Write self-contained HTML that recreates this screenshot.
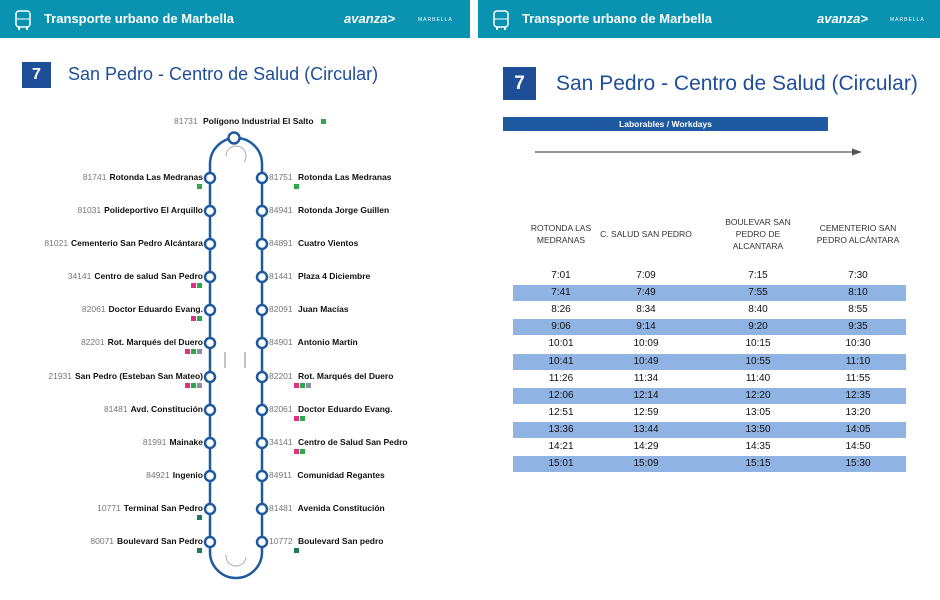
<!DOCTYPE html>
<html><head><meta charset="utf-8"><style>
body{margin:0;width:940px;height:600px;background:#fff;position:relative;overflow:hidden;font-family:"Liberation Sans",sans-serif}
.hdr{position:absolute;top:0;height:38px;background:#0a93b0;color:#fff}
.hdr .t{position:absolute;left:44px;top:11px;font-size:13px;font-weight:bold}
.logo{position:absolute;top:11px;font-size:13px;font-weight:bold;font-style:italic}
.mar{position:absolute;top:17px;font-size:5px;letter-spacing:1px}
.num{position:absolute;background:#1f4e99;color:#fff;font-weight:bold;text-align:center}
.ttl{position:absolute;color:#1f4e99}
.s{position:absolute;font-size:8.5px;font-weight:bold;color:#111;white-space:nowrap;font-family:"Liberation Sans Narrow","Liberation Sans",sans-serif}
.s i{font-style:normal;color:#777;font-weight:normal;margin-right:3px}
.bd{position:absolute;white-space:nowrap;line-height:0}
.b{display:inline-block;width:5px;height:5px;margin-right:1px}
.cell{position:absolute;font-size:10px;color:#111;text-align:center;width:100px;margin-left:-50px}
.hd{position:absolute;font-size:8.5px;color:#333;text-align:center;width:100px;margin-left:-50px;line-height:12px}
</style></head><body>
<div class="hdr" style="left:0;width:470px">
<svg style="position:absolute;left:14px;top:9px" width="18" height="22"><rect x="2" y="2" width="14" height="16" rx="3" fill="none" stroke="#fff" stroke-width="1.5"/><line x1="2" y1="10" x2="16" y2="10" stroke="#fff"/><line x1="5" y1="18" x2="5" y2="21" stroke="#fff" stroke-width="2"/><line x1="13" y1="18" x2="13" y2="21" stroke="#fff" stroke-width="2"/></svg>
<div class="t">Transporte urbano de Marbella</div>
<div class="logo" style="left:344px">avanza&gt;</div>
<div class="mar" style="left:418px">MARBELLA</div>
</div>
<div class="hdr" style="left:478px;width:462px">
<svg style="position:absolute;left:14px;top:9px" width="18" height="22"><rect x="2" y="2" width="14" height="16" rx="3" fill="none" stroke="#fff" stroke-width="1.5"/><line x1="2" y1="10" x2="16" y2="10" stroke="#fff"/><line x1="5" y1="18" x2="5" y2="21" stroke="#fff" stroke-width="2"/><line x1="13" y1="18" x2="13" y2="21" stroke="#fff" stroke-width="2"/></svg>
<div class="t">Transporte urbano de Marbella</div>
<div class="logo" style="left:339px">avanza&gt;</div>
<div class="mar" style="left:412px">MARBELLA</div>
</div>
<div class="num" style="left:22px;top:62px;width:29px;height:26px;line-height:26px;font-size:16px">7</div>
<div class="ttl" style="left:68px;top:64px;font-size:18px">San Pedro - Centro de Salud (Circular)</div>
<div class="num" style="left:503px;top:67px;width:33px;height:33px;line-height:33px;font-size:19px">7</div>
<div class="ttl" style="left:556px;top:72px;font-size:21px">San Pedro - Centro de Salud (Circular)</div>
<div style="position:absolute;left:503px;top:117px;width:325px;height:14px;background:#1f5aa0;color:#fff;font-size:8.5px;font-weight:bold;text-align:center;line-height:14px">Laborables / Workdays</div>
<svg style="position:absolute;left:0;top:0" width="940" height="600" id="svg">
<line x1="535" y1="152" x2="855" y2="152" stroke="#555" stroke-width="1.3"/>
<polygon points="862,152 852,148.5 852,155.5" fill="#555"/>
<rect x="210" y="138" width="52" height="440" rx="26" fill="none" stroke="#1f5aa0" stroke-width="2.5"/>
<circle cx="234" cy="138" r="5.5" fill="#fff" stroke="#1f5aa0" stroke-width="2.5"/>
<path d="M226,156 A10,10 0 1 1 244,162" fill="none" stroke="#aaa" stroke-width="1"/>
<path d="M226,555 A10,10 0 1 0 246,557" fill="none" stroke="#aaa" stroke-width="1"/>
<line x1="225" y1="352" x2="225" y2="368" stroke="#888"/><line x1="245" y1="352" x2="245" y2="368" stroke="#888"/>
</svg>
<div class="s" style="left:174px;top:116px"><i>81731</i> Polígono Industrial El Salto <span class="b" style="background:#2da84a;margin-left:5px"></span></div>
<div id="stops"></div>
<div id="tbl"></div>
<script>
const stopYs=[178,211,244,277,310,343,377,410,443,476,509,542];
const leftCodes=["81741","81031","81021","34141","82061","82201","21931","81481","81991","84921","10771","80071"];
const leftNames=["Rotonda Las Medranas","Polideportivo El Arquillo","Cementerio San Pedro Alcántara","Centro de salud San Pedro","Doctor Eduardo Evang.","Rot. Marqués del Duero","San Pedro (Esteban San Mateo)","Avd. Constitución","Mainake","Ingenio","Terminal San Pedro","Boulevard San Pedro"];
const leftBadges=["g","","","pg","pg","pgs","pgs","","","","d","d"];
const rightCodes=["81751","84941","84891","81441","82091","84901","82201","82061","34141","84911","81481","10772"];
const rightNames=["Rotonda Las Medranas","Rotonda Jorge Guillen","Cuatro Vientos","Plaza 4 Diciembre","Juan Macías","Antonio Martín","Rot. Marqués del Duero","Doctor Eduardo Evang.","Centro de Salud San Pedro","Comunidad Regantes","Avenida Constitución","Boulevard San pedro"];
const rightBadges=["g","","","","","","pgs","pg","pg","","","d"];
const headers=["ROTONDA LAS<br>MEDRANAS","C. SALUD SAN PEDRO","BOULEVAR SAN<br>PEDRO DE<br>ALCANTARA","CEMENTERIO SAN<br>PEDRO ALCÁNTARA"];
const col1=["7:01","7:41","8:26","9:06","10:01","10:41","11:26","12:06","12:51","13:36","14:21","15:01"];
const col2=["7:09","7:49","8:34","9:14","10:09","10:49","11:34","12:14","12:59","13:44","14:29","15:09"];
const col3=["7:15","7:55","8:40","9:20","10:15","10:55","11:40","12:20","13:05","13:50","14:35","15:15"];
const col4=["7:30","8:10","8:55","9:35","10:30","11:10","11:55","12:35","13:20","14:05","14:50","15:30"];
const bc={p:"#e0307f",g:"#2da84a",s:"#8a8fa8",d:"#1d7a5a"};
const svg=document.getElementById('svg'),ns="http://www.w3.org/2000/svg";
const st=document.getElementById('stops');
function badges(str){return str.split('').map(k=>'<span class="b" style="background:'+bc[k]+'"></span>').join('');}
stopYs.forEach((y,i)=>{
 [210,262].forEach(x=>{const c=document.createElementNS(ns,'circle');c.setAttribute('cx',x);c.setAttribute('cy',y);c.setAttribute('r',5);c.setAttribute('fill','#fff');c.setAttribute('stroke','#1f5aa0');c.setAttribute('stroke-width',2.5);
 
 
 svg.appendChild(c);});
 const l=document.createElement('div');l.className='s';l.style.right=(940-203)+'px';l.style.top=(y-6)+'px';
 l.innerHTML='<i>'+leftCodes[i]+'</i>'+leftNames[i];
 
 
 st.appendChild(l);
 if(leftBadges[i]){const b=document.createElement('div');b.className='bd';b.style.right=(940-203)+'px';b.style.top=(y+6)+'px';b.innerHTML=badges(leftBadges[i]);
 
 
 st.appendChild(b);}
 const r=document.createElement('div');r.className='s';r.style.left='269px';r.style.top=(y-6)+'px';
 r.innerHTML='<i>'+rightCodes[i]+'</i> '+rightNames[i];
 
 
 st.appendChild(r);
 if(rightBadges[i]){const b=document.createElement('div');b.className='bd';b.style.left='294px';b.style.top=(y+6)+'px';b.innerHTML=badges(rightBadges[i]);
 
 
 st.appendChild(b);}
});
const tb=document.getElementById('tbl');
const cx=[561,646,758,858];
const hy=[222,228,216,222];
headers.forEach((h,j)=>{const d=document.createElement('div');d.className='hd';d.style.left=cx[j]+'px';d.style.top=hy[j]+'px';d.innerHTML=h;
 
 
 tb.appendChild(d);});
const cols=[col1,col2,col3,col4];
col1.forEach((v,i)=>{
 const y=267+i*17.1;
 if(i%2==1){const b=document.createElement('div');b.style.cssText='position:absolute;left:513px;width:393px;height:16px;background:#8fb3e3;top:'+(y+1)+'px';
 
 
 tb.appendChild(b);}
 cols.forEach((c,j)=>{const d=document.createElement('div');d.className='cell';d.style.left=cx[j]+'px';d.style.top=(y+3)+'px';d.textContent=c[i];
 
 
 tb.appendChild(d);});
});
</script>
</body></html>
